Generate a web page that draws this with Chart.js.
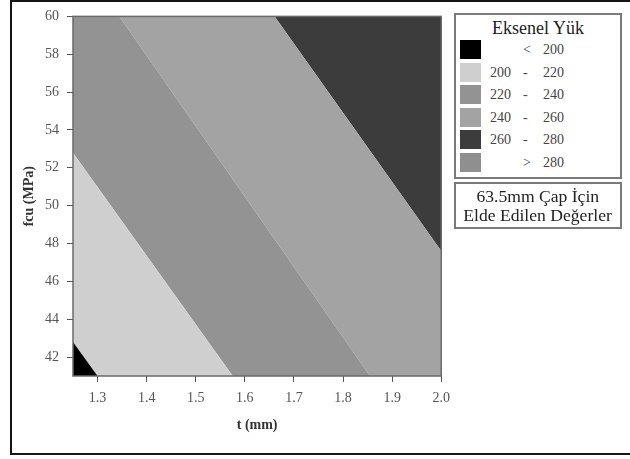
<!DOCTYPE html>
<html lang="tr">
<head>
<meta charset="UTF-8">
<title>Eksenel Yük</title>
<script src="https://cdn.jsdelivr.net/npm/chart.js"></script>
<style>
    body { margin: 0; background: #fff; font-family: "Liberation Serif", serif; }
    #frame { position: absolute; left: 10px; top: 0; width: 640px; height: 455px; border: 2px solid #161616; box-sizing: border-box; }
    #wrap { position: absolute; left: 0; top: 0; width: 458px; height: 440px; }
    .box { position: absolute; left: 454px; width: 168px; border: 2px solid #7a7a7a; box-sizing: border-box; background: #fff; color: #333; font-family: "Liberation Serif", serif; }
    #legend { top: 13px; height: 166px; }
    #note { top: 182px; height: 47px; text-align: center; font-size: 16px; line-height: 19px; padding-top: 3px; color: #222; }
    #note span { display: inline-block; transform: scaleX(1.1); white-space: nowrap; }
    .ttl { text-align: center; font-size: 18px; margin-top: 3px; height: 22px; color: #222; }
    .row { position: relative; height: 22.5px; font-size: 14px; color: #444; }
    .sw { position: absolute; left: 4px; top: 0; width: 21px; height: 19px; }
    .lo { position: absolute; left: 34px; top: 2px; }
    .dash { position: absolute; left: 67px; top: 2px; }
    .hi { position: absolute; left: 87px; top: 2px; }
</style>
</head>
<body>
<div id="frame"></div>
<div id="wrap"><canvas id="contour"></canvas></div>
<div class="box" id="legend"><div class="ttl">Eksenel Yük</div></div>
<div class="box" id="note"><span>63.5mm Çap İçin</span><br><span>Elde Edilen Değerler</span></div>

<script>
// t (mm) ekseni uclari, sinir cizgileri bu iki noktada tanimli
const tPoints = [1.25, 2.0];
// kontur sinirlari: fcu (MPa) degerleri, t = 1.25 ve t = 2.0 icin
const boundary200 = [42.8, 15.8];
const boundary220 = [52.8, 25.6];
const boundary240 = [63.5, 35.6];
const boundary260 = [75.0, 47.6];

const levelLabels = [['', '<', '200'], ['200', '-', '220'], ['220', '-', '240'], ['240', '-', '260'], ['260', '-', '280'], ['', '>', '280']];
const levelColors = ['#000000', '#cfcfcf', '#939393', '#a3a3a3', '#3c3c3c', '#8f8f8f'];

const xTicks = [1.3, 1.4, 1.5, 1.6, 1.7, 1.8, 1.9, 2.0];
const yTicks = [42, 44, 46, 48, 50, 52, 54, 56, 58, 60];

function pts(vals) {
    return vals.map((v, i) => ({ x: tPoints[i], y: v }));
}

function band(vals, color, fill) {
    return {
        data: pts(vals),
        backgroundColor: color,
        borderColor: color,
        borderWidth: 0,
        pointRadius: 0,
        fill: fill,
        showLine: true
    };
}

// legend kutusu
const legendEl = document.getElementById('legend');
levelLabels.forEach((l, i) => {
    const r = document.createElement('div');
    r.className = 'row';
    r.innerHTML = '<span class="sw" style="background:' + levelColors[i] + '"></span>' +
        '<span class="lo">' + l[0] + '</span><span class="dash">' + l[1] + '</span><span class="hi">' + l[2] + '</span>';
    legendEl.appendChild(r);
});

const frameBorder = {
    id: 'frameBorder',
    afterDraw(chart) {
        const a = chart.chartArea, ctx = chart.ctx;
        ctx.save();
        ctx.strokeStyle = '#6a6a6a';
        ctx.lineWidth = 1.5;
        ctx.strokeRect(a.left, a.top, a.right - a.left, a.bottom - a.top);
        ctx.restore();
    }
};

const serif = "'Liberation Serif', serif";

new Chart(document.getElementById('contour'), {
    type: 'scatter',
    data: {
        datasets: [
            band(boundary200, levelColors[0], 'start'),
            band(boundary220, levelColors[1], '-1'),
            band(boundary240, levelColors[2], '-1'),
            band(boundary260, levelColors[3], '-1'),
            band(boundary260, levelColors[4], 'end')
        ]
    },
    options: {
        responsive: true,
        maintainAspectRatio: false,
        animation: false,
        layout: { padding: { top: 14, right: 10, left: 17, bottom: 6 } },
        plugins: { legend: { display: false }, tooltip: { enabled: false } },
        scales: {
            x: {
                type: 'linear',
                min: 1.25,
                max: 2.0,
                afterBuildTicks: s => { s.ticks = xTicks.map(v => ({ value: v })); },
                afterFit: s => { s.height = 58; },
                grid: { drawOnChartArea: false, drawTicks: true, tickLength: 6, color: '#555' },
                border: { display: false },
                ticks: {
                    padding: 8,
                    color: '#555',
                    font: { family: serif, size: 14 },
                    maxRotation: 0,
                    callback: v => v.toFixed(1)
                },
                title: { display: true, text: 't (mm)', color: '#333', padding: { top: 0, bottom: 0 }, font: { family: serif, size: 14, weight: 'bold' } }
            },
            y: {
                type: 'linear',
                min: 41,
                max: 60,
                afterBuildTicks: s => { s.ticks = yTicks.map(v => ({ value: v })); },
                afterFit: s => { s.width = 56; },
                grid: { drawOnChartArea: false, drawTicks: true, tickLength: 6, color: '#555' },
                border: { display: false },
                ticks: {
                    padding: 8,
                    color: '#555',
                    font: { family: serif, size: 14 }
                },
                title: { display: true, text: 'fcu (MPa)', color: '#333', padding: { top: 4, bottom: 0 }, font: { family: serif, size: 14, weight: 'bold' } }
            }
        }
    },
    plugins: [frameBorder]
});
</script>
</body>
</html>
